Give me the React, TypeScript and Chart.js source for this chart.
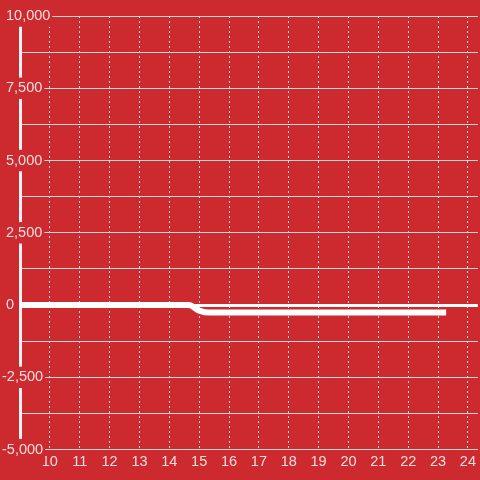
import React, { useEffect, useRef } from 'react';
import { Chart, registerables } from 'chart.js';

Chart.register(...registerables);

// ---- data ----
const seriesX = [8.5, 14.65, 15.0, 15.35, 23.27];
const seriesY = [0, 0, -190, -260, -260];
const xTicks = [10, 11, 12, 13, 14, 15, 16, 17, 18, 19, 20, 21, 22, 23, 24];
const yTicks = [-5000, -3750, -2500, -1250, 0, 1250, 2500, 3750, 5000, 6250, 7500, 8750, 10000];
const yLabelled = [-5000, -2500, 0, 2500, 5000, 7500, 10000];

const X_MIN = 9;
const X_MAX = 24 + 1 / 3;
const Y_MIN = -5000;
const Y_MAX = 10000;

const BG = '#cc2a2f';
const TEXT = '#f4dcdc';
const GRID = '#d8d8d8';
const FONT = { size: 14.5, family: "'Liberation Sans', Arial, sans-serif" };

function yLabel(v: number): string {
  if (!yLabelled.includes(v)) return '';
  const s = v.toLocaleString('en-US');
  return v < 0 ? s : ' ' + s;
}

export default function App() {
  const ref = useRef<HTMLCanvasElement>(null);
  useEffect(() => {
    const chart = new Chart(ref.current as HTMLCanvasElement, {
      type: 'line',
      data: {
        datasets: [
          {
            data: seriesX.map((x, i) => ({ x, y: seriesY[i] })),
            borderColor: '#ffffff',
            borderWidth: 6,
            pointRadius: 0,
            cubicInterpolationMode: 'monotone',
            fill: false,
          },
        ],
      },
      options: {
        responsive: false,
        animation: false,
        layout: { padding: { top: 16, right: 0, bottom: 5, left: 0 } },
        plugins: { legend: { display: false }, tooltip: { enabled: false } },
        scales: {
          x: {
            type: 'linear',
            min: X_MIN,
            max: X_MAX,
            afterBuildTicks: (s: any) => {
              s.ticks = xTicks.map((v) => ({ value: v }));
            },
            grid: { color: GRID, lineWidth: 1, drawTicks: false },
            border: { display: false, dash: [2, 3] },
            ticks: {
              color: TEXT,
              font: FONT,
              padding: 4,
              maxRotation: 0,
              autoSkip: false,
              callback: (v: any) => String(v),
            },
          },
          y: {
            type: 'linear',
            min: Y_MIN,
            max: Y_MAX,
            afterBuildTicks: (s: any) => {
              s.ticks = yTicks.map((v) => ({ value: v }));
            },
            afterFit: (s: any) => {
              s.width = 20;
            },
            grid: {
              color: (ctx: any) => (ctx.tick && ctx.tick.value === 0 ? '#ffffff' : GRID),
              lineWidth: (ctx: any) => (ctx.tick && ctx.tick.value === 0 ? 3 : 1),
              drawTicks: false,
            },
            border: { color: '#f2f2f2', width: 3 },
            ticks: {
              color: TEXT,
              font: FONT,
              mirror: true,
              crossAlign: 'near',
              padding: -18,
              autoSkip: false,
              showLabelBackdrop: true,
              backdropPadding: 2,
              backdropColor: (ctx: any) => {
                const v = ctx.tick ? ctx.tick.value : NaN;
                return yLabelled.includes(v) ? BG : 'rgba(0,0,0,0)';
              },
              callback: (v: any) => yLabel(Number(v)),
            },
          },
        },
      },
    } as any);
    return () => chart.destroy();
  }, []);
  return (
    <div style={{ position: 'fixed', left: 0, top: 0, width: 480, height: 480, background: BG }}>
      <canvas ref={ref} width={480} height={480} style={{ display: 'block' }} />
    </div>
  );
}
